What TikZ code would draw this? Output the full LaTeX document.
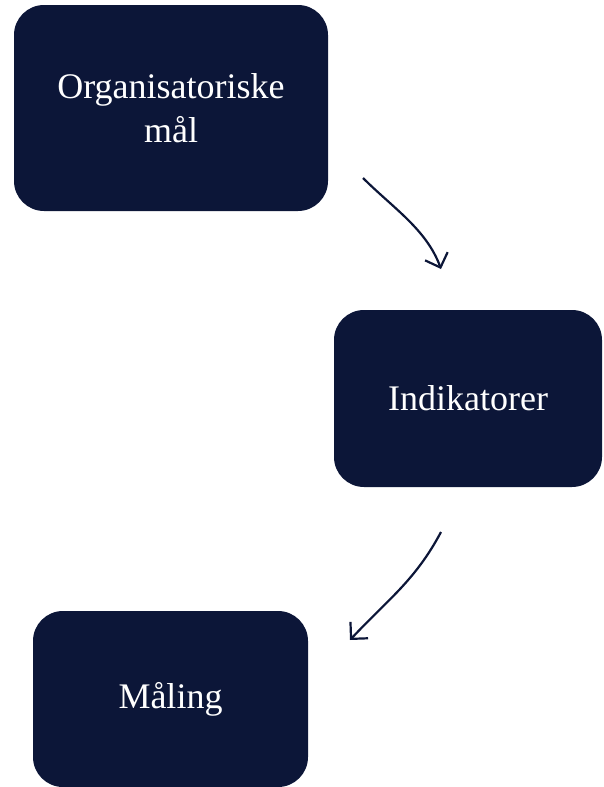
\documentclass[tikz,border=0pt]{standalone}
\usepackage{fontspec}
\setmainfont{Liberation Serif}
\usetikzlibrary{arrows.meta}
\definecolor{navy}{RGB}{12,22,56}
\tikzset{
  box/.style={fill=navy, draw=none, rounded corners=30pt, text=white,
    font=\fontsize{36}{44}\selectfont, align=center, inner sep=0pt},
  conn/.style={draw=navy, line width=2.2pt, -{Straight Barb[length=12pt,width=24pt,line width=2.2pt]}}
}
\begin{document}
\begin{tikzpicture}[x=1pt,y=-1pt]
\useasboundingbox (0,0) rectangle (603,787);
\node[box, minimum width=314pt, minimum height=206pt] (org) at (171,108) {Organisatoriske\\mål};
\node[box, minimum width=268pt, minimum height=177pt] (ind) at (468,398.5) {Indikatorer};
\node[box, minimum width=275pt, minimum height=176pt] (maal) at (170.5,699) {Måling};
\coordinate (a1s) at (363,178);
\coordinate (a1e) at (441,269);
\coordinate (a2s) at (441,532);
\coordinate (a2e) at (350,640);
\draw[conn] (a1s) to[out=-45, in=110, looseness=0.9] (a1e);
\draw[conn] (a2s) to[out=-118, in=47] (a2e);
\end{tikzpicture}
\end{document}
